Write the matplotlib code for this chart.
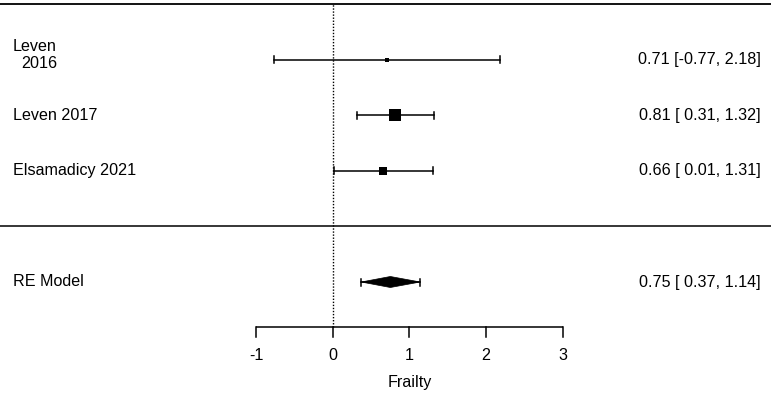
import matplotlib
matplotlib.use("Agg")
import matplotlib.pyplot as plt

# ---- data ----
studies = ["Leven\n 2016", "Leven 2017", "Elsamadicy 2021"]
est = [0.71, 0.81, 0.66]
ci_lo = [-0.77, 0.31, 0.01]
ci_hi = [2.18, 1.32, 1.31]
weights = [2.2, 8.6, 5.8]  # marker size (pt), relative study weight
re_label = "RE Model"
re_est, re_lo, re_hi = 0.75, 0.37, 1.14
xticks = [-1, 0, 1, 2, 3]
xlabel = "Frailty"

plt.rcParams['font.family'] = ['Liberation Sans', 'DejaVu Sans']
fig = plt.figure(figsize=(7.74, 3.99), dpi=100)
ax = fig.add_axes([0, 0, 1, 1])
ax.set_axis_off()

# pixel mapping: x px = 332.9 + 76.6*x ; y px = 226.5 - 55.5*row
xl = -332.9 / 76.6
xr = (774 - 332.9) / 76.6
ax.set_xlim(xl, xr)
yt = 226.5 / 55.5
yb = (226.5 - 399) / 55.5
ax.set_ylim(yb, yt)

k = len(studies)
rows = list(range(k, 0, -1))
fs = 11.6
lc = 'black'

# horizontal lines
ax.plot([xl, xl + 771 / 76.6], [k + 1, k + 1], color=lc, lw=1.3, solid_capstyle='butt')
ax.plot([xl, xl + 771 / 76.6], [0, 0], color=lc, lw=1.1, solid_capstyle='butt')

axis_row = -1.81
# reference line
ax.plot([0, 0], [axis_row, k + 1], color=lc, lw=1.0, ls=(0, (1, 1.2)))

cap = 3.5 / 55.5
for r, name, e, lo, hi, w in zip(rows, studies, est, ci_lo, ci_hi, weights):
    ax.plot([lo, hi], [r, r], color=lc, lw=1.1)
    ax.plot([lo, lo], [r - cap, r + cap], color=lc, lw=1.1)
    ax.plot([hi, hi], [r - cap, r + cap], color=lc, lw=1.1)
    ax.plot([e], [r], marker='s', ms=w, color=lc, mec=lc, mew=0)
    if "\n" in name:
        first, second = name.split("\n")
        ax.text(xl + 13 / 76.6, r + 13.3 / 55.5, first, ha='left', va='center', fontsize=fs)
        ax.text(xl + 21 / 76.6, r - 4 / 55.5, second.strip(), ha='left', va='center', fontsize=fs)
    else:
        ax.text(xl + 13 / 76.6, r, name, ha='left', va='center', fontsize=fs)
    ax.text(xl + 761 / 76.6, r, f"{e:.2f} [{lo:5.2f}, {hi:.2f}]",
            ha='right', va='center', fontsize=fs)

# RE model
rr = -1
h = 5.5 / 55.5
ax.plot([re_lo, re_hi], [rr, rr], color=lc, lw=1.1)
ax.plot([re_lo, re_lo], [rr - cap, rr + cap], color=lc, lw=1.1)
ax.plot([re_hi, re_hi], [rr - cap, rr + cap], color=lc, lw=1.1)
ax.fill([re_lo, re_est, re_hi, re_est], [rr, rr + h, rr, rr - h], color=lc, lw=0.5)
ax.text(xl + 13 / 76.6, rr, re_label, ha='left', va='center', fontsize=fs)
ax.text(xl + 761 / 76.6, rr, f"{re_est:.2f} [{re_lo:5.2f}, {re_hi:.2f}]",
        ha='right', va='center', fontsize=fs)

# x axis
ax.plot([xticks[0], xticks[-1]], [axis_row, axis_row], color=lc, lw=1.1, solid_capstyle='butt')
tl = 10 / 55.5
for t in xticks:
    ax.plot([t, t], [axis_row, axis_row - tl], color=lc, lw=1.1)
    ax.text(t, (226.5 - 355) / 55.5, f"{t}", ha='center', va='center', fontsize=fs)
ax.text(1, (226.5 - 383) / 55.5, xlabel, ha='center', va='center', fontsize=fs)

fig.savefig("out.png", dpi=100)
